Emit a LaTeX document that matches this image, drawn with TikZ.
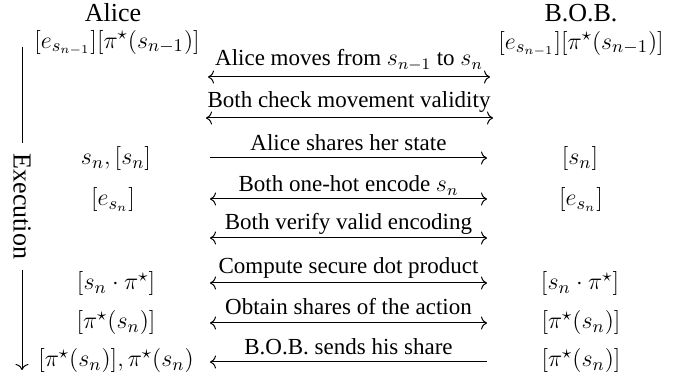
\documentclass[tikz,border=0pt]{standalone}
\usepackage{fontspec}
\setmainfont{Liberation Serif}
\usetikzlibrary{arrows.meta}
\begin{document}
\begin{tikzpicture}[x=0.5pt,y=-0.5pt,
  title/.style={font=\fontsize{13}{15}\selectfont, inner sep=0pt},
  mth/.style={font=\fontsize{12.8}{15}\selectfont, inner sep=0pt},
  lbl/.style={font=\fontsize{11.5}{14}\selectfont, inner sep=0pt, anchor=base},
  conn/.style={line width=0.5pt, >={Computer Modern Rightarrow[length=3pt,width=6.5pt]}},
  execl/.style={font=\fontsize{13}{15}\selectfont, rotate=-90, inner xsep=5pt, inner ysep=0pt}]
\useasboundingbox (0,0) rectangle (690,383);
% titles
\node[title] (alice) at (113,13) {Alice};
\node[title] (bob) at (581,13) {B.O.B.};
% column entries
\node[mth] (l0) at (117,43) {$[e_{s_{n-1}}][\pi^\star(s_{n-1})]$};
\node[mth] (r0) at (581,44) {$[e_{s_{n-1}}][\pi^\star(s_{n-1})]$};
\node[mth] (l3) at (116,159) {$s_n,[s_n]$};
\node[mth] (r3) at (580,159) {$[s_n]$};
\node[mth] (l4) at (113,200) {$[e_{s_n}]$};
\node[mth] (r4) at (581,200) {$[e_{s_n}]$};
\node[mth] (l6) at (116,284) {$[s_n\cdot\pi^\star]$};
\node[mth] (r6) at (580,284) {$[s_n\cdot\pi^\star]$};
\node[mth] (l7) at (116,323) {$[\pi^\star(s_n)]$};
\node[mth] (r7) at (581,323) {$[\pi^\star(s_n)]$};
\node[mth] (l8) at (116,361) {$[\pi^\star(s_n)],\pi^\star(s_n)$};
\node[mth] (r8) at (581,361) {$[\pi^\star(s_n)]$};
% arrow end points
\coordinate (a1) at (208,77);  \coordinate (b1) at (490,77);
\coordinate (a2) at (206,118); \coordinate (b2) at (493,118);
\coordinate (a3) at (210,158); \coordinate (b3) at (487,158);
\coordinate (a4) at (210,199); \coordinate (b4) at (487,199);
\coordinate (a5) at (210,238); \coordinate (b5) at (487,238);
\coordinate (a6) at (210,283); \coordinate (b6) at (487,283);
\coordinate (a7) at (210,323); \coordinate (b7) at (487,323);
\coordinate (a8) at (210,362); \coordinate (b8) at (487,362);
% arrow labels
\node[lbl] (t1) at (349,66) {Alice moves from $s_{n-1}$ to $s_n$};
\node[lbl] (t2) at (349,108) {Both check movement validity};
\node[lbl] (t3) at (348.5,150.7) {Alice shares her state};
\node[lbl] (t4) at (348.5,191.7) {Both one-hot encode $s_n$};
\node[lbl] (t5) at (348.5,230) {Both verify valid encoding};
\node[lbl] (t6) at (348.5,273.3) {Compute secure dot product};
\node[lbl] (t7) at (348.5,315) {Obtain shares of the action};
\node[lbl] (t8) at (348.5,355) {B.O.B. sends his share};
% arrows
\draw[conn,<->] (a1) -- (b1);
\draw[conn,<->] (a2) -- (b2);
\draw[conn,->] (a3) -- (b3);
\draw[conn,<->] (a4) -- (b4);
\draw[conn,<->] (a5) -- (b5);
\draw[conn,<->] (a6) -- (b6);
\draw[conn,<->] (a7) -- (b7);
\draw[conn,<-] (a8) -- (b8);
% execution timeline
\node[execl] (exec) at (22,206.5) {Execution};
\coordinate (vtop) at (22,47);
\coordinate (vbot) at (22,370);
\draw[conn] (vtop) -- (exec.west);
\draw[conn,->] (exec.east) -- (vbot);
\end{tikzpicture}
\end{document}
